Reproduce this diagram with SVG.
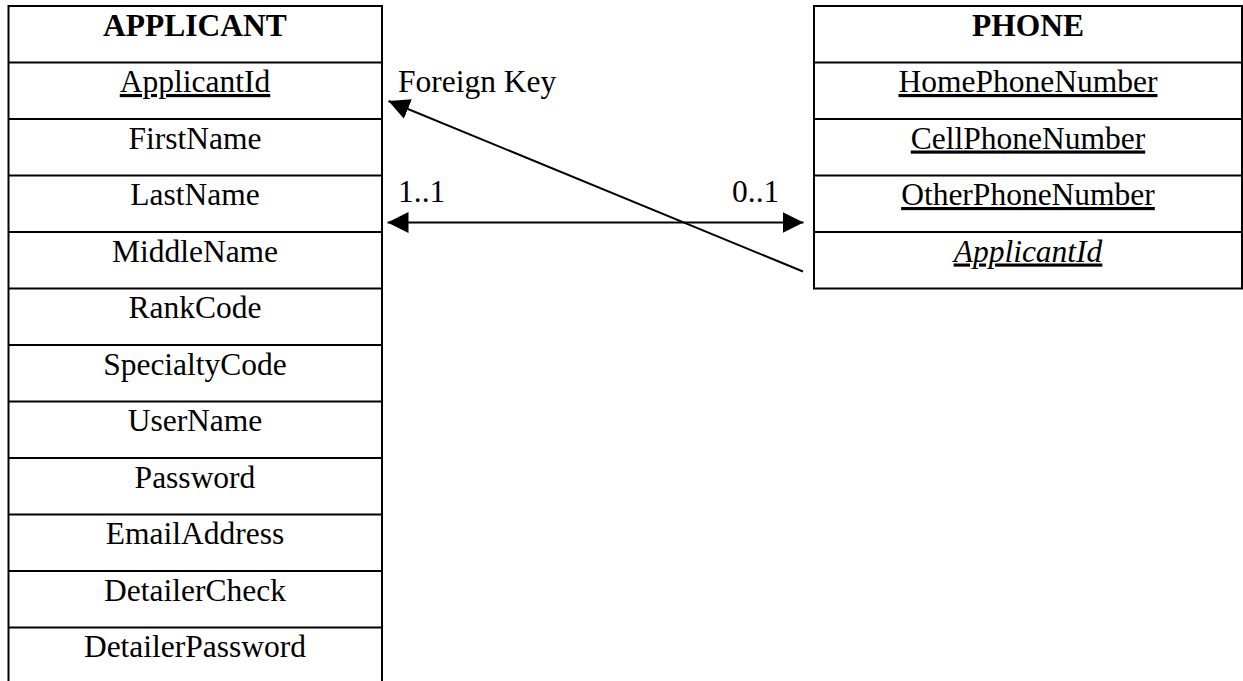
<svg xmlns="http://www.w3.org/2000/svg" width="1243" height="681" viewBox="0 0 1243 681">
  <style>
    .box { fill: #fff; stroke: #000; stroke-width: 2; }
    .sep { stroke: #000; stroke-width: 2; }
    .t { font-family: "Liberation Serif", "Times New Roman", serif; font-size: 31.5px; fill: #000; }
    .c { text-anchor: middle; }
    .b { font-weight: bold; }
    .u { text-decoration: underline; }
    .i { font-style: italic; }
    .conn { stroke: #000; stroke-width: 2; fill: none; }
  </style>
  <defs>
    <marker id="arrow" viewBox="0 0 21 21" refX="21" refY="10.5" markerWidth="21" markerHeight="21" markerUnits="userSpaceOnUse" orient="auto-start-reverse">
      <path d="M0,0 L21,10.5 L0,21 z" fill="#000"/>
    </marker>
  </defs>
  <rect width="1243" height="681" fill="#fff"/>

  <!-- APPLICANT table -->
  <g id="applicant">
    <rect class="box" x="8.5" y="6" width="373.5" height="700"/>
    <g class="sep">
      <line x1="8.5" y1="62.5" x2="382" y2="62.5"/>
      <line x1="8.5" y1="119" x2="382" y2="119"/>
      <line x1="8.5" y1="175.5" x2="382" y2="175.5"/>
      <line x1="8.5" y1="232" x2="382" y2="232"/>
      <line x1="8.5" y1="288.5" x2="382" y2="288.5"/>
      <line x1="8.5" y1="345" x2="382" y2="345"/>
      <line x1="8.5" y1="401.5" x2="382" y2="401.5"/>
      <line x1="8.5" y1="458" x2="382" y2="458"/>
      <line x1="8.5" y1="514.5" x2="382" y2="514.5"/>
      <line x1="8.5" y1="571" x2="382" y2="571"/>
      <line x1="8.5" y1="627.5" x2="382" y2="627.5"/>
    </g>
    <text class="t c b" x="195" y="36">APPLICANT</text>
    <text class="t c u" x="195" y="92">ApplicantId</text>
    <text class="t c" x="195" y="148.5">FirstName</text>
    <text class="t c" x="195" y="205">LastName</text>
    <text class="t c" x="195" y="261.5">MiddleName</text>
    <text class="t c" x="195" y="318">RankCode</text>
    <text class="t c" x="195" y="374.5">SpecialtyCode</text>
    <text class="t c" x="195" y="431">UserName</text>
    <text class="t c" x="195" y="487.5">Password</text>
    <text class="t c" x="195" y="544">EmailAddress</text>
    <text class="t c" x="195" y="600.5">DetailerCheck</text>
    <text class="t c" x="195" y="657">DetailerPassword</text>
  </g>

  <!-- PHONE table -->
  <g id="phone">
    <rect class="box" x="814" y="6" width="428" height="282.5"/>
    <g class="sep">
      <line x1="814" y1="62.5" x2="1242" y2="62.5"/>
      <line x1="814" y1="119" x2="1242" y2="119"/>
      <line x1="814" y1="175.5" x2="1242" y2="175.5"/>
      <line x1="814" y1="232" x2="1242" y2="232"/>
    </g>
    <text class="t c b" x="1028" y="36">PHONE</text>
    <text class="t c u" x="1028" y="92">HomePhoneNumber</text>
    <text class="t c u" x="1028" y="148.5">CellPhoneNumber</text>
    <text class="t c u" x="1028" y="205">OtherPhoneNumber</text>
    <text class="t c u i" x="1028" y="261.5">ApplicantId</text>
  </g>

  <!-- relationship connectors -->
  <g id="connectors">
    <line class="conn" x1="803" y1="271.5" x2="388.5" y2="101" marker-end="url(#arrow)"/>
    <line class="conn" x1="387.5" y1="222.5" x2="803.5" y2="222.5" marker-start="url(#arrow)" marker-end="url(#arrow)"/>
    <text class="t" x="398" y="92">Foreign Key</text>
    <text class="t" x="398" y="202">1..1</text>
    <text class="t" x="732" y="202">0..1</text>
  </g>
</svg>
